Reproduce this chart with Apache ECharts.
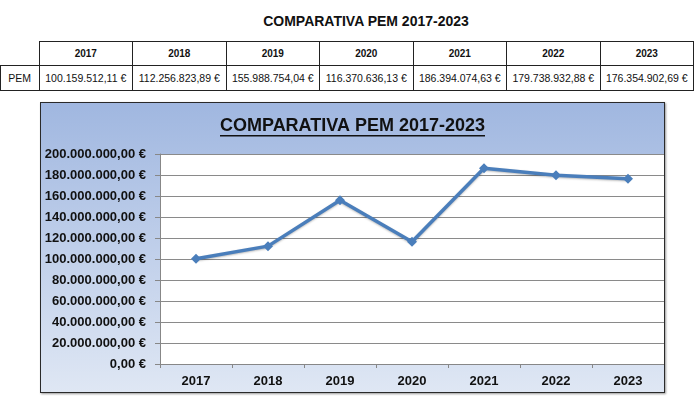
<!DOCTYPE html>
<html>
<head>
<meta charset="utf-8">
<script src="https://cdn.jsdelivr.net/npm/echarts@6/dist/echarts.min.js"></script>
<style>
  body { margin: 0; background: #fff; font-family: "Liberation Sans", Arial, sans-serif; }
  #title { position: absolute; left: 0; width: 732px; top: 13px; text-align: center; font-weight: bold; font-size: 14px; color: #111; }
  #tbl { position: absolute; left: 0; top: 41px; border-collapse: collapse; font-size: 10.5px; color: #111; }
  #tbl td { border: 1px solid #222; text-align: center; padding: 0; }
  #tbl tr.head td { height: 23px; font-weight: bold; font-size: 10px; }
  #tbl tr.row td { height: 24px; }
  #tbl td.blank { border-top: none; border-left: none; }
  #main { position: absolute; left: 40px; top: 102px; width: 623px; height: 289px; border: 1px solid #2a2a2a; box-shadow: 1px 1px 2px #999; }
</style>
</head>
<body>
<div id="title">COMPARATIVA PEM 2017-2023</div>
<table id="tbl"></table>
<div id="main"></div>
<script>
const years = ["2017", "2018", "2019", "2020", "2021", "2022", "2023"];
const pem = [100159512.11, 112256823.89, 155988754.04, 116370636.13, 186394074.63, 179738932.88, 176354902.69];
const rowLabel = "PEM";
const chartTitle = "COMPARATIVA PEM 2017-2023";

// formato español: 1.234.567,89 €
const euro = (v) => {
  const parts = v.toFixed(2).split(".");
  return parts[0].replace(/\B(?=(\d{3})+(?!\d))/g, ".") + "," + parts[1] + " €";
};

// tabla
const tbl = document.getElementById("tbl");
let html = '<tr class="head"><td class="blank" style="width:38px"></td>';
years.forEach((y) => { html += '<td style="width:92.5px">' + y + "</td>"; });
html += '</tr><tr class="row"><td>' + rowLabel + "</td>";
pem.forEach((v) => { html += "<td>" + euro(v) + "</td>"; });
html += "</tr>";
tbl.innerHTML = html;

const myChart = echarts.init(document.getElementById("main"));
const option = {
  backgroundColor: new echarts.graphic.LinearGradient(0, 0, 0, 1, [
    { offset: 0, color: "#a0b7e0" },
    { offset: 1, color: "#dfe7f4" },
  ]),
  animation: false,
  graphic: [
    {
      type: "text",
      left: "center",
      top: 14,
      style: { text: chartTitle, font: "bold 18px 'Liberation Sans'", fill: "#111" },
    },
    {
      type: "rect",
      left: "center",
      top: 32,
      shape: { width: 265, height: 1.5 },
      style: { fill: "#111" },
    },
  ],
  grid: {
    left: 119,
    right: 0,
    top: 51,
    bottom: 28,
    show: true,
    backgroundColor: "#fff",
    borderWidth: 0,
  },
  xAxis: {
    type: "category",
    data: years,
    axisLine: { lineStyle: { color: "#878787" } },
    axisTick: { show: true, length: 4, lineStyle: { color: "#878787" } },
    axisLabel: { color: "#111", fontWeight: "bold", fontSize: 13, margin: 11, fontFamily: "Liberation Sans" },
  },
  yAxis: {
    type: "value",
    min: 0,
    max: 200000000,
    interval: 20000000,
    axisLine: { show: true, lineStyle: { color: "#878787" } },
    axisTick: { show: true, length: 5, lineStyle: { color: "#878787" } },
    splitLine: { lineStyle: { color: "#8a8a8a" } },
    axisLabel: { color: "#111", fontWeight: "bold", fontSize: 13, margin: 14, fontFamily: "Liberation Sans", formatter: euro },
  },
  series: [
    {
      name: rowLabel,
      type: "line",
      data: pem,
      symbol: "diamond",
      symbolSize: 10,
      lineStyle: { color: "#4a7ebb", width: 3.5, shadowColor: "rgba(0,0,0,0.25)", shadowBlur: 2, shadowOffsetY: 1 },
      itemStyle: { color: "#4a7ebb" },
    },
  ],
};
myChart.setOption(option);
</script>
</body>
</html>
